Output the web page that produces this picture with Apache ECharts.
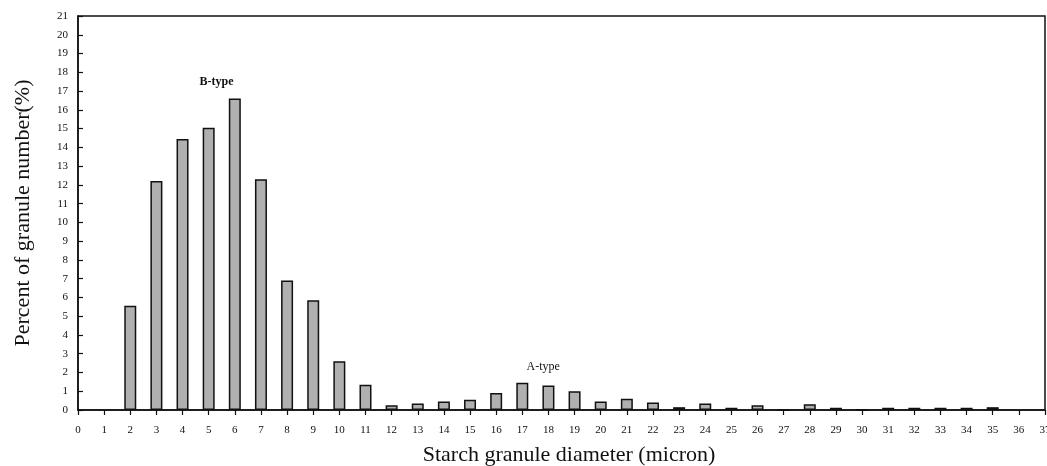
<!DOCTYPE html>
<html>
<head>
<meta charset="utf-8">
<script src="https://cdn.jsdelivr.net/npm/echarts@6/dist/echarts.min.js"></script>
<style>
html,body{margin:0;padding:0;background:#fff;}
#echarts{width:1047px;height:466px;}
</style>
</head>
<body>
<div id="echarts"></div>
<script>
// diameter (micron) and percent of granule number
var diameters=[2,3,4,5,6,7,8,9,10,11,12,13,14,15,16,17,18,19,20,21,22,23,24,25,26,27,28,29,30,31,32,33,34,35];
var percents=[5.55,12.2,14.45,15.05,16.6,12.3,6.9,5.85,2.6,1.35,0.25,0.35,0.45,0.55,0.9,1.45,1.3,1.0,0.45,0.6,0.4,0.15,0.35,0.12,0.25,0,0.3,0.12,0,0.12,0.12,0.12,0.12,0.15];
var typeLabels=['B-type','A-type'];
var typeCoords=[[5.3,17.5],[17.8,2.3]];

var font='Liberation Serif';
var myChart=echarts.init(document.getElementById('echarts'));
var points=diameters.map(function(d,i){return [d,percents[i]];});
var option={
    animation:false,
    grid:{
        left:78,
        right:2,
        top:16,
        bottom:56,
        outerBoundsMode:'none',
        show:true,
        borderColor:'#111',
        borderWidth:1.5
    },
    xAxis:{
        type:'value',
        min:0,
        max:37,
        interval:1,
        name:'Starch granule diameter (micron)',
        nameLocation:'middle',
        nameGap:34,
        nameTextStyle:{fontFamily:font,fontSize:22,color:'#111',padding:[0,0,0,15]},
        axisLine:{lineStyle:{color:'#111',width:1.5}},
        axisTick:{inside:false,length:5,lineStyle:{color:'#111',width:1.2}},
        axisLabel:{fontFamily:font,fontSize:11,color:'#111',margin:15,showMaxLabel:true},
        splitLine:{show:false}
    },
    yAxis:{
        type:'value',
        min:0,
        max:21,
        interval:1,
        name:'Percent of granule number(%)',
        nameLocation:'middle',
        nameGap:44,
        nameTextStyle:{fontFamily:font,fontSize:22,color:'#111'},
        axisLine:{show:true,lineStyle:{color:'#111',width:1.5}},
        axisTick:{show:true,inside:true,length:5,lineStyle:{color:'#111',width:1.2}},
        axisLabel:{fontFamily:font,fontSize:11,color:'#111',margin:10},
        splitLine:{show:false}
    },
    series:[
        {
            type:'bar',
            barWidth:12,
            itemStyle:{
                color:'#b0b0b0',
                borderColor:'#111',
                borderWidth:1.5
            },
            markPoint:{
                symbol:'circle',
                symbolSize:0,
                label:{
                    show:true,
                    position:'inside',
                    fontFamily:font,
                    fontSize:12,
                    color:'#111',
                    formatter:function(p){return p.name;}
                },
                data:typeLabels.map(function(t,i){
                    return {name:t,coord:typeCoords[i],label:{fontWeight:i==0?'bold':'normal'}};
                })
            },
            data:points
        }
    ]
};
myChart.setOption(option);
</script>
</body>
</html>
